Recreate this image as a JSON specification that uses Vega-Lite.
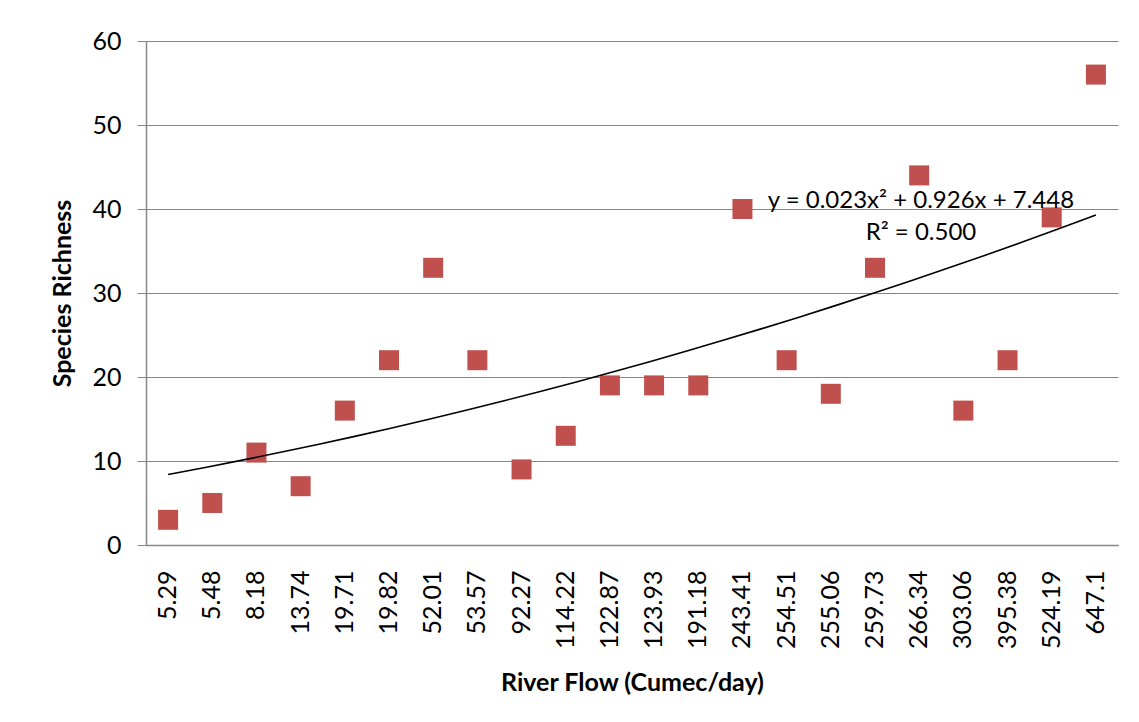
{
  "$schema": "https://vega.github.io/schema/vega-lite/v6.json",
  "width": 972,
  "height": 504,
  "autosize": {"type": "none"},
  "padding": {"left": 146, "top": 41, "right": 21, "bottom": 177},
  "background": "white",
  "config": {
    "font": "Lato",
    "view": {"stroke": null},
    "axis": {
      "labelFont": "Lato",
      "labelColor": "#000000",
      "titleFont": "Lato",
      "titleColor": "#000000",
      "domainColor": "#868686",
      "tickColor": "#868686",
      "gridColor": "#868686"
    }
  },
  "layer": [
    {
      "data": {
        "values": [
          {"flow": "5.29", "idx": 1, "richness": 3},
          {"flow": "5.48", "idx": 2, "richness": 5},
          {"flow": "8.18", "idx": 3, "richness": 11},
          {"flow": "13.74", "idx": 4, "richness": 7},
          {"flow": "19.71", "idx": 5, "richness": 16},
          {"flow": "19.82", "idx": 6, "richness": 22},
          {"flow": "52.01", "idx": 7, "richness": 33},
          {"flow": "53.57", "idx": 8, "richness": 22},
          {"flow": "92.27", "idx": 9, "richness": 9},
          {"flow": "114.22", "idx": 10, "richness": 13},
          {"flow": "122.87", "idx": 11, "richness": 19},
          {"flow": "123.93", "idx": 12, "richness": 19},
          {"flow": "191.18", "idx": 13, "richness": 19},
          {"flow": "243.41", "idx": 14, "richness": 40},
          {"flow": "254.51", "idx": 15, "richness": 22},
          {"flow": "255.06", "idx": 16, "richness": 18},
          {"flow": "259.73", "idx": 17, "richness": 33},
          {"flow": "266.34", "idx": 18, "richness": 44},
          {"flow": "303.06", "idx": 19, "richness": 16},
          {"flow": "395.38", "idx": 20, "richness": 22},
          {"flow": "524.19", "idx": 21, "richness": 39},
          {"flow": "647.1", "idx": 22, "richness": 56}
        ],
        "name": "points"
      },
      "layer": [
        {
          "mark": {"type": "point", "shape": "square", "filled": true, "size": 400, "color": "#C0504D", "opacity": 1},
          "encoding": {
            "x": {
              "field": "flow",
              "type": "ordinal",
              "sort": null,
              "scale": {"type": "band", "paddingInner": 0, "paddingOuter": 0},
              "axis": {
                "title": "River Flow (Cumec/day)",
                "titleFontSize": 25,
                "titleFontWeight": "bold",
                "titleX": 486,
                "titleY": 137,
                "titleAlign": "center",
                "titleBaseline": "middle",
                "labelAngle": -90,
                "labelFontSize": 25,
                "labelPadding": 25,
                "ticks": false,
                "domainWidth": 1.5
              }
            },
            "y": {
              "field": "richness",
              "type": "quantitative",
              "scale": {"domain": [0, 60], "nice": false},
              "axis": {
                "title": "Species Richness",
                "titleFontSize": 25,
                "titleFontWeight": "bold",
                "titleX": -84,
                "titleY": 252,
                "titleAngle": -90,
                "titleAlign": "center",
                "titleBaseline": "middle",
                "values": [0, 10, 20, 30, 40, 50, 60],
                "labelFontSize": 25,
                "labelPadding": 16,
                "tickSize": 9,
                "domainWidth": 1.5,
                "gridWidth": 1.2
              }
            }
          }
        },
        {
          "transform": [
            {"regression": "richness", "on": "idx", "method": "poly", "order": 2, "extent": [1, 22]}
          ],
          "mark": {"type": "line", "color": "#000000", "strokeWidth": 1.6},
          "encoding": {
            "x": {"field": "idx", "type": "quantitative", "scale": {"domain": [0.5, 22.5], "nice": false, "zero": false}, "axis": null},
            "y": {"field": "richness", "type": "quantitative"}
          }
        }
      ],
      "resolve": {"scale": {"x": "independent"}}
    },
    {
      "data": {"values": [{"label": "y = 0.023x² + 0.926x + 7.448", "px": 18.04, "py": 40.95}, {"label": "R² = 0.500", "px": 18.04, "py": 37.2}]},
      "mark": {"type": "text", "fontSize": 24, "align": "center", "baseline": "middle", "color": "#000000"},
      "encoding": {
        "text": {"field": "label"},
        "x": {"field": "px", "type": "quantitative", "scale": {"domain": [0.5, 22.5], "nice": false, "zero": false}, "axis": null},
        "y": {"field": "py", "type": "quantitative"}
      }
    }
  ],
  "resolve": {"scale": {"x": "independent"}}
}
